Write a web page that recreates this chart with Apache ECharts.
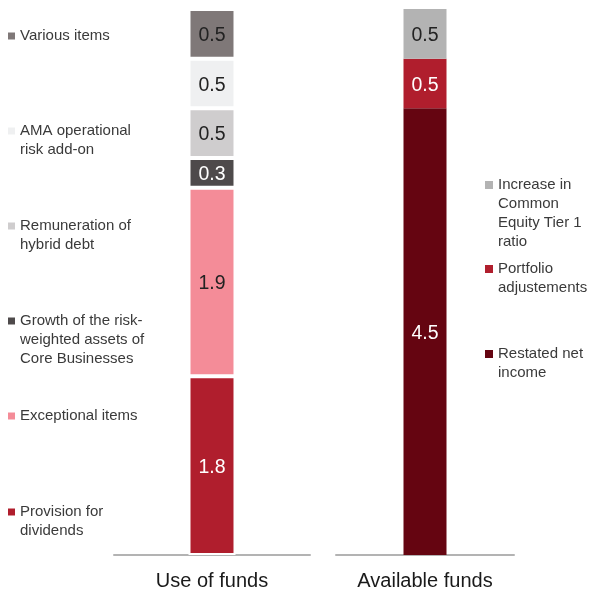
<!DOCTYPE html>
<html>
<head>
<meta charset="utf-8">
<script src="https://cdn.jsdelivr.net/npm/echarts@6/dist/echarts.min.js"></script>
<style>
html,body{margin:0;padding:0;background:#fff;}
#chart{width:590px;height:591px;}
</style>
</head>
<body>
<div id="chart"></div>
<script>
// Categories
const useCategories = ['Use of funds'];
const availCategories = ['Available funds'];

// Use of funds series (bottom to top)
const useNames = ['Provision for dividends', 'Exceptional items', 'Growth of the risk-weighted assets of Core Businesses', 'Remuneration of hybrid debt', 'AMA operational risk add-on', 'Various items'];
const useLegendText = ['Provision for\ndividends', 'Exceptional items', 'Growth of the risk-\nweighted assets of\nCore Businesses', 'Remuneration of\nhybrid debt', 'AMA operational\nrisk add-on', 'Various items'];
const useValues = [1.8, 1.9, 0.3, 0.5, 0.5, 0.5];
const useColors = ['#b01e2d', '#f48c98', '#4e4a4b', '#cfcdce', '#eff0f1', '#7f7878'];
const useLabelColors = ['#ffffff', '#222222', '#ffffff', '#222222', '#222222', '#222222'];
const useLegendFirstLine = [511, 415, 320, 225, 130, 35];

// Available funds series (bottom to top)
const availNames = ['Restated net income', 'Portfolio adjustements', 'Increase in Common Equity Tier 1 ratio'];
const availLegendText = ['Restated net\nincome', 'Portfolio\nadjustements', 'Increase in\nCommon\nEquity Tier 1\nratio'];
const availValues = [4.5, 0.5, 0.5];
const availColors = ['#650511', '#b01e2d', '#b3b3b3'];
const availLabelColors = ['#ffffff', '#ffffff', '#222222'];
const availLegendFirstLine = [353, 268, 184];

const FONT = '"Liberation Sans", Arial, Helvetica, sans-serif';
const LH = 19;

const chart = echarts.init(document.getElementById('chart'), null, {renderer: 'canvas'});

function makeLegend(name, text, firstLineY, left, iconSize) {
  const lines = text.split('\n');
  const n = lines.length;
  // prepend blank lines so that the first text line sits level with the icon
  const padded = new Array(n - 1).fill(' ').concat(lines).join('\n');
  return {
    show: true,
    left: left,
    top: firstLineY + 1 - (2 * n - 1) * LH / 2,
    orient: 'vertical',
    padding: 0,
    icon: 'rect',
    itemWidth: iconSize,
    itemHeight: iconSize,
    itemStyle: {borderWidth: 0},
    selectedMode: false,
    formatter: function () { return padded; },
    textStyle: {
      fontFamily: FONT,
      fontSize: 15,
      color: '#3a3a3a',
      lineHeight: LH
    },
    data: [name]
  };
}

const legends = [];
useNames.forEach((nm, i) => legends.push(makeLegend(nm, useLegendText[i], useLegendFirstLine[i], 8, 7)));
availNames.forEach((nm, i) => legends.push(makeLegend(nm, availLegendText[i], availLegendFirstLine[i], 485, 8)));

const series = [];
useNames.forEach((nm, i) => {
  series.push({
    name: nm,
    type: 'bar',
    stack: 'use',
    xAxisIndex: 0,
    yAxisIndex: 0,
    barWidth: 47,
    data: [useValues[i]],
    itemStyle: {color: useColors[i], borderColor: '#ffffff', borderWidth: 2},
    label: {
      show: true,
      position: 'inside',
      offset: [0, 2],
      fontFamily: FONT,
      fontSize: 19.5,
      color: useLabelColors[i],
      formatter: (p) => p.value.toFixed(1)
    },
    emphasis: {disabled: true}
  });
});
availNames.forEach((nm, i) => {
  series.push({
    name: nm,
    type: 'bar',
    stack: 'avail',
    xAxisIndex: 1,
    yAxisIndex: 1,
    barWidth: 43,
    data: [availValues[i]],
    itemStyle: {color: availColors[i]},
    label: {
      show: true,
      position: 'inside',
      offset: [0, 2],
      fontFamily: FONT,
      fontSize: 19.5,
      color: availLabelColors[i],
      formatter: (p) => p.value.toFixed(1)
    },
    emphasis: {disabled: true}
  });
});

function xAxisDef(cats, gridIndex) {
  return {
    type: 'category',
    gridIndex: gridIndex,
    data: cats,
    axisTick: {show: false},
    axisLine: {show: true, lineStyle: {color: '#b3b3b3', width: 2}},
    axisLabel: {fontFamily: FONT, fontSize: 20, color: '#1a1a1a', margin: 16}
  };
}
function yAxisDef(gridIndex) {
  return {
    type: 'value',
    gridIndex: gridIndex,
    min: 0,
    max: 5.5,
    show: false,
    splitLine: {show: false}
  };
}

chart.setOption({
  animation: false,
  backgroundColor: '#ffffff',
  textStyle: {fontFamily: FONT},
  legend: legends,
  grid: [
    {left: 114, right: 280, top: 9, bottom: 36},
    {left: 336, right: 76, top: 9, bottom: 36}
  ],
  xAxis: [xAxisDef(useCategories, 0), xAxisDef(availCategories, 1)],
  yAxis: [yAxisDef(0), yAxisDef(1)],
  series: series
});
</script>
</body>
</html>
